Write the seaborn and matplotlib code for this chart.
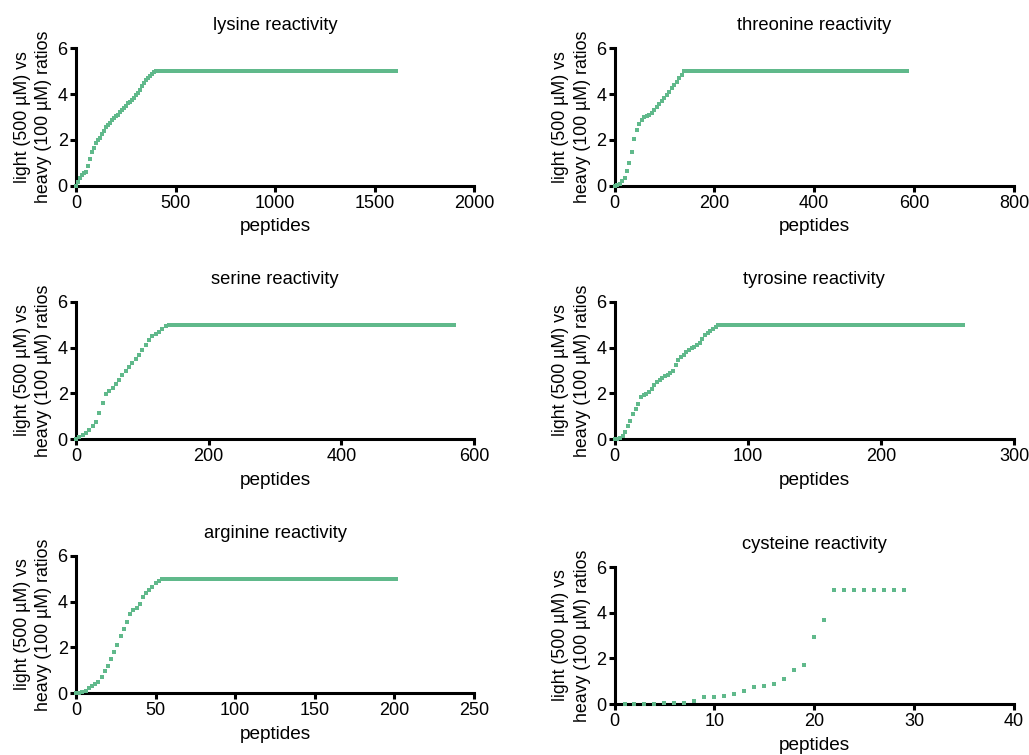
import matplotlib
matplotlib.use('Agg')
import matplotlib.pyplot as plt
import seaborn as sns

# sorted light/heavy ratios per residue; ratios are capped at 5.
# rising part every `step` peptides,
# the rest of each set sits on the cap.
GREEN = '#60b98b'

lys_step = 10
lys_rise = [0.0, 0.15, 0.35, 0.45, 0.55, 0.6, 0.85, 1.15, 1.45, 1.65, 1.85,
            2.0, 2.1, 2.25, 2.4, 2.55, 2.65, 2.75, 2.85, 2.95, 3.05,
            3.1, 3.2, 3.3, 3.4, 3.5, 3.6, 3.65, 3.75, 3.85, 3.95,
            4.05, 4.2, 4.35, 4.5, 4.6, 4.7, 4.8, 4.9, 4.95, 5.0]
lys_total = 1610

thr_step = 5
thr_rise = [0.0, 0.02, 0.07, 0.18, 0.35, 0.62, 1.0, 1.47, 2.05, 2.45, 2.7,
            2.85, 2.98, 3.05, 3.1, 3.18, 3.3, 3.43, 3.55, 3.68, 3.82,
            3.95, 4.1, 4.25, 4.4, 4.55, 4.7, 4.85, 5.0]
thr_total = 585

ser_step = 5
ser_rise = [0.0, 0.08, 0.18, 0.28, 0.4, 0.55, 0.75, 1.12, 1.58, 1.95, 2.12,
            2.22, 2.42, 2.6, 2.82, 3.0, 3.15, 3.32, 3.5, 3.68, 3.92,
            4.1, 4.35, 4.5, 4.62, 4.7, 4.82, 4.95, 5.0]
ser_total = 570

tyr_step = 2
tyr_rise = [0.0, 0.02, 0.06, 0.15, 0.32, 0.55, 0.8, 1.08, 1.32, 1.55, 1.82,
            1.92, 1.97, 2.05, 2.2, 2.35, 2.5, 2.6, 2.68, 2.75, 2.82,
            2.9, 3.0, 3.25, 3.45, 3.6, 3.68, 3.8, 3.92, 4.0, 4.05,
            4.1, 4.2, 4.4, 4.55, 4.65, 4.72, 4.8, 4.9, 5.0]
tyr_total = 262

arg_step = 2
arg_rise = [0.0, 0.02, 0.05, 0.1, 0.2, 0.3, 0.4, 0.5, 0.7, 0.95, 1.2,
            1.48, 1.78, 2.1, 2.5, 2.8, 3.1, 3.45, 3.62, 3.72, 3.9,
            4.2, 4.4, 4.5, 4.65, 4.82, 4.92, 5.0]
arg_total = 201

cys_step = 1
cys_rise = [0.0, 0.0, 0.0, 0.02, 0.03, 0.04, 0.06, 0.12, 0.32, 0.33, 0.36,
            0.42, 0.57, 0.76, 0.8, 0.86, 1.08, 1.51, 1.7, 2.95, 3.7,
            5.0, 5.0, 5.0, 5.0, 5.0, 5.0, 5.0, 5.0]
cys_total = 29

panels = [
    ('lysine reactivity', lys_step, lys_rise, lys_total, 0, 2000, 500),
    ('threonine reactivity', thr_step, thr_rise, thr_total, 0, 800, 200),
    ('serine reactivity', ser_step, ser_rise, ser_total, 0, 600, 200),
    ('tyrosine reactivity', tyr_step, tyr_rise, tyr_total, 0, 300, 100),
    ('arginine reactivity', arg_step, arg_rise, arg_total, 0, 250, 50),
    ('cysteine reactivity', cys_step, cys_rise, cys_total, 1, 40, 10),
]

# axes rectangles in figure fractions (left, bottom, width, height)
rects = [
    (0.0739, 0.7543, 0.3868, 0.1815),
    (0.5972, 0.7543, 0.3882, 0.1815),
    (0.0739, 0.4185, 0.3868, 0.1815),
    (0.5972, 0.4185, 0.3882, 0.1815),
    (0.0739, 0.0821, 0.3868, 0.1815),
    (0.5972, 0.0675, 0.3882, 0.1815),
]

sns.set_style('ticks')
plt.rcParams['font.family'] = ['Liberation Sans', 'DejaVu Sans']
plt.rcParams['text.color'] = 'black'
plt.rcParams['axes.labelcolor'] = 'black'

fig = plt.figure(figsize=(10.29, 7.55), dpi=100)

for (title, step, rise, total, start, xmax, xtick), rect in zip(panels, rects):
    ax = fig.add_axes(rect)
    ranks = [start + step * i for i in range(len(rise))]
    capped = list(range(ranks[-1] + 1, total + 1))
    x = ranks + capped
    y = list(rise) + [5.0] * len(capped)
    sns.scatterplot(x=x, y=y, ax=ax, color=GREEN, marker='s', s=6.5,
                    linewidth=0, clip_on=False, zorder=3, legend=False)

    ax.set_xlim(0, xmax)
    ax.set_ylim(0, 6)
    ax.set_xticks(range(0, xmax + 1, xtick))
    ax.set_yticks([0, 2, 4, 6])
    sns.despine(ax=ax)
    for side in ('left', 'bottom'):
        ax.spines[side].set_linewidth(2.2)
        ax.spines[side].set_color('black')
    ax.tick_params(axis='both', labelsize=13, width=2.2, length=4.5,
                   color='black', labelcolor='black', direction='out')
    ax.tick_params(axis='x', pad=2)
    ax.tick_params(axis='y', pad=1.5)

    ax.set_title(title, fontsize=13.2, pad=13, color='black')
    ax.set_xlabel('peptides', fontsize=13.7, color='black')
    ax.xaxis.set_label_coords(0.5, -0.24)
    ax.set_ylabel('light (500 µM) vs\nheavy (100 µM) ratios', fontsize=12.8,
                  linespacing=1.35, color='black')
    ax.yaxis.set_label_coords(-0.06, 0.5)

fig.savefig('out.png', dpi=100)
